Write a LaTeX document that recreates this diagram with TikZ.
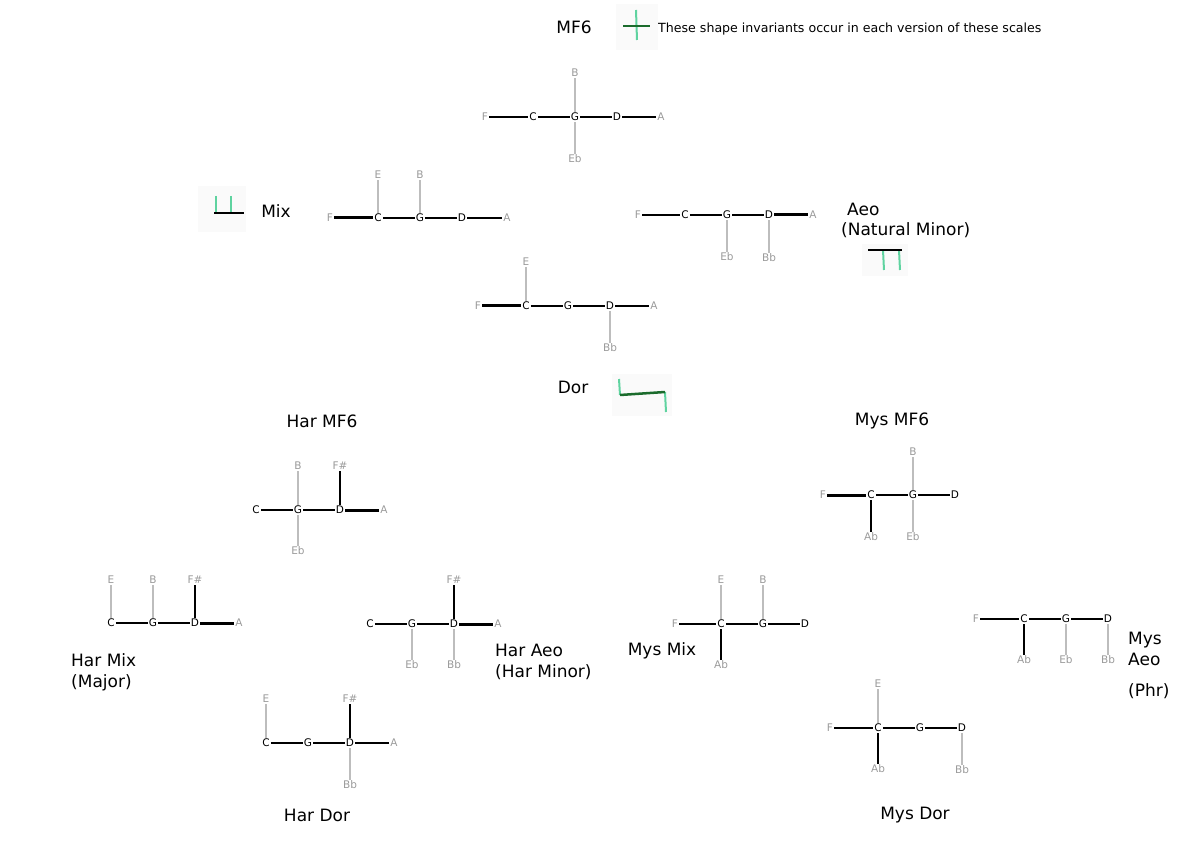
\documentclass[tikz,border=0pt]{standalone}
\usepackage{fontspec}
\setmainfont{DejaVu Sans}
\definecolor{inklight}{HTML}{5FD3A0}
\definecolor{inkdark}{HTML}{1B6B2C}
\definecolor{notegray}{HTML}{9A9A9A}
\definecolor{stemgray}{HTML}{BDBDBD}

\begin{document}
\begin{tikzpicture}[x=1pt,y=-1pt,line cap=butt]

  \tikzstyle{note}=[font=\fontsize{10.5}{12}\selectfont,text=notegray,inner sep=1pt]
  \tikzstyle{root}=[note,text=black]
  \tikzstyle{title}=[font=\fontsize{17}{21}\selectfont,inner sep=0pt]
  \tikzstyle{bar}=[draw=black,line width=2.3pt]
  \tikzstyle{heavy}=[draw=black,line width=3pt]
  \tikzstyle{stem}=[draw=stemgray,line width=1.6pt]
  \tikzstyle{boldstem}=[draw=black,line width=2.8pt]
  \tikzstyle{pad}=[fill=black!2,draw=none]

  \useasboundingbox (0,0) rectangle (1200,850);

  % titles
  \node[title]                    (tMF6)    at (574,27)   {MF6};
  \node[anchor=west,inner sep=0pt,font=\fontsize{12.6}{14}\selectfont]
                                  (legend)  at (658,29)   {These shape invariants occur in each version of these scales};
  \node[title]                    (tMix)    at (276,211)  {Mix};
  \node[title,anchor=west]        (tAeo)    at (847,209)  {Aeo};
  \node[title,anchor=west]        (tNat)    at (841,230)  {(Natural Minor)};
  \node[title]                    (tDor)    at (573,387)  {Dor};
  \node[title]                    (tHarMF6) at (322,421)  {Har MF6};
  \node[title]                    (tMysMF6) at (892,421)  {Mys MF6};
  \node[title,anchor=west,align=left] (tHarMix) at (71,672)   {Har Mix\\(Major)};
  \node[title,anchor=west,align=left] (tHarAeo) at (495,662)  {Har Aeo\\(Har Minor)};
  \node[title]                    (tHarDor) at (317,815)  {Har Dor};
  \node[title]                    (tMysMix) at (662,651)  {Mys Mix};
  \node[title,anchor=west,align=left] (tMysAeo) at (1128,649) {Mys\\Aeo};
  \node[title,anchor=west]        (tPhr)    at (1128,691) {(Phr)};
  \node[title]                    (tMysDor) at (915,815)  {Mys Dor};

  % invariant marks
  \fill[pad] (616,4) rectangle (658,50);
  \draw[inklight,line width=2pt] (636,10) -- (637,40);
  \draw[inkdark,line width=2.2pt] (623,26) -- (650,26);

  \fill[pad] (198,186) rectangle (246,232);
  \draw[inklight,line width=2pt] (216,196) -- (216,212);
  \draw[inklight,line width=2pt] (231,196) -- (231,212);
  \draw[black,line width=2.5pt] (214,213) -- (244,213);

  \fill[pad] (862,244) rectangle (908,276);
  \draw[inklight,line width=2pt] (883,250) -- (884,270);
  \draw[inklight,line width=2pt] (899,250) -- (900,270);
  \draw[black,line width=2.5pt] (868,250) -- (902,250);

  \fill[pad] (612,374) rectangle (672,416);
  \draw[inklight,line width=2pt] (619,379) -- (620,395);
  \draw[inklight,line width=2pt] (665,392) -- (666,412);
  \draw[inkdark,line width=2.5pt] (620,395) -- (665,392);

  % MF6
  \node[note] (mf-F)  at (485,117) {F};
  \node[root] (mf-C)  at (533,117) {C};
  \node[root] (mf-G)  at (575,117) {G};
  \node[root] (mf-D)  at (617,117) {D};
  \node[note] (mf-A)  at (661,117) {A};
  \node[note] (mf-B)  at (575,73)  {B};
  \node[note] (mf-Eb) at (575,159) {Eb};

  % Mix
  \node[note] (mix-F) at (330,218) {F};
  \node[root] (mix-C) at (378,218) {C};
  \node[root] (mix-G) at (420,218) {G};
  \node[root] (mix-D) at (462,218) {D};
  \node[note] (mix-A) at (507,218) {A};
  \node[note] (mix-E) at (378,175) {E};
  \node[note] (mix-B) at (420,175) {B};

  % Aeo
  \node[note] (aeo-F)  at (638,215) {F};
  \node[root] (aeo-C)  at (685,215) {C};
  \node[root] (aeo-G)  at (727,215) {G};
  \node[root] (aeo-D)  at (769,215) {D};
  \node[note] (aeo-A)  at (813,215) {A};
  \node[note] (aeo-Eb) at (727,257) {Eb};
  \node[note] (aeo-Bb) at (769,258) {Bb};

  % Dor
  \node[note] (dor-F)  at (478,306) {F};
  \node[root] (dor-C)  at (526,306) {C};
  \node[root] (dor-G)  at (568,306) {G};
  \node[root] (dor-D)  at (610,306) {D};
  \node[note] (dor-A)  at (654,306) {A};
  \node[note] (dor-E)  at (526,262) {E};
  \node[note] (dor-Bb) at (610,348) {Bb};

  % Har MF6
  \node[root] (hmf-C)  at (256,510) {C};
  \node[root] (hmf-G)  at (298,510) {G};
  \node[root] (hmf-D)  at (340,510) {D};
  \node[note] (hmf-A)  at (384,510) {A};
  \node[note] (hmf-B)  at (298,466) {B};
  \node[note] (hmf-Fs) at (340,466) {F\#};
  \node[note] (hmf-Eb) at (298,551) {Eb};

  % Har Mix
  \node[root] (hmix-C)  at (111,623) {C};
  \node[root] (hmix-G)  at (153,623) {G};
  \node[root] (hmix-D)  at (195,623) {D};
  \node[note] (hmix-A)  at (239,623) {A};
  \node[note] (hmix-E)  at (111,580) {E};
  \node[note] (hmix-B)  at (153,580) {B};
  \node[note] (hmix-Fs) at (195,580) {F\#};

  % Har Aeo
  \node[root] (haeo-C)  at (370,624) {C};
  \node[root] (haeo-G)  at (412,624) {G};
  \node[root] (haeo-D)  at (454,624) {D};
  \node[note] (haeo-A)  at (498,624) {A};
  \node[note] (haeo-Fs) at (454,580) {F\#};
  \node[note] (haeo-Eb) at (412,665) {Eb};
  \node[note] (haeo-Bb) at (454,665) {Bb};

  % Har Dor
  \node[root] (hdor-C)  at (266,743) {C};
  \node[root] (hdor-G)  at (308,743) {G};
  \node[root] (hdor-D)  at (350,743) {D};
  \node[note] (hdor-A)  at (394,743) {A};
  \node[note] (hdor-E)  at (266,699) {E};
  \node[note] (hdor-Fs) at (350,699) {F\#};
  \node[note] (hdor-Bb) at (350,785) {Bb};

  % Mys MF6
  \node[note] (ymf-F)  at (823,495) {F};
  \node[root] (ymf-C)  at (871,495) {C};
  \node[root] (ymf-G)  at (913,495) {G};
  \node[root] (ymf-D)  at (955,495) {D};
  \node[note] (ymf-B)  at (913,452) {B};
  \node[note] (ymf-Ab) at (871,537) {Ab};
  \node[note] (ymf-Eb) at (913,537) {Eb};

  % Mys Mix
  \node[note] (ymix-F)  at (675,624) {F};
  \node[root] (ymix-C)  at (721,624) {C};
  \node[root] (ymix-G)  at (763,624) {G};
  \node[root] (ymix-D)  at (805,624) {D};
  \node[note] (ymix-E)  at (721,580) {E};
  \node[note] (ymix-B)  at (763,580) {B};
  \node[note] (ymix-Ab) at (721,665) {Ab};

  % Mys Aeo
  \node[note] (yaeo-F)  at (976,619)  {F};
  \node[root] (yaeo-C)  at (1024,619) {C};
  \node[root] (yaeo-G)  at (1066,619) {G};
  \node[root] (yaeo-D)  at (1108,619) {D};
  \node[note] (yaeo-Ab) at (1024,660) {Ab};
  \node[note] (yaeo-Eb) at (1066,660) {Eb};
  \node[note] (yaeo-Bb) at (1108,660) {Bb};

  % Mys Dor
  \node[note] (ydor-F)  at (830,728) {F};
  \node[root] (ydor-C)  at (878,728) {C};
  \node[root] (ydor-G)  at (920,728) {G};
  \node[root] (ydor-D)  at (962,728) {D};
  \node[note] (ydor-E)  at (878,684) {E};
  \node[note] (ydor-Ab) at (878,769) {Ab};
  \node[note] (ydor-Bb) at (962,770) {Bb};

  \path
  (mf-F) edge[bar] (mf-C)  (mf-C) edge[bar] (mf-G)  (mf-G) edge[bar] (mf-D)  (mf-D) edge[bar] (mf-A)
  (mf-G) edge[stem] (mf-B)  (mf-G) edge[stem] (mf-Eb)

  (mix-F) edge[heavy] (mix-C)  (mix-C) edge[bar] (mix-G)  (mix-G) edge[bar] (mix-D)  (mix-D) edge[bar] (mix-A)
  (mix-C) edge[stem] (mix-E)  (mix-G) edge[stem] (mix-B)

  (aeo-F) edge[bar] (aeo-C)  (aeo-C) edge[bar] (aeo-G)  (aeo-G) edge[bar] (aeo-D)  (aeo-D) edge[heavy] (aeo-A)
  (aeo-G) edge[stem] (aeo-Eb)  (aeo-D) edge[stem] (aeo-Bb)

  (dor-F) edge[heavy] (dor-C)  (dor-C) edge[bar] (dor-G)  (dor-G) edge[bar] (dor-D)  (dor-D) edge[bar] (dor-A)
  (dor-C) edge[stem] (dor-E)  (dor-D) edge[stem] (dor-Bb)

  (hmf-C) edge[bar] (hmf-G)  (hmf-G) edge[bar] (hmf-D)  (hmf-D) edge[heavy] (hmf-A)
  (hmf-G) edge[stem] (hmf-B)  (hmf-D) edge[boldstem] (hmf-Fs)  (hmf-G) edge[stem] (hmf-Eb)

  (hmix-C) edge[bar] (hmix-G)  (hmix-G) edge[bar] (hmix-D)  (hmix-D) edge[heavy] (hmix-A)
  (hmix-C) edge[stem] (hmix-E)  (hmix-G) edge[stem] (hmix-B)  (hmix-D) edge[boldstem] (hmix-Fs)

  (haeo-C) edge[bar] (haeo-G)  (haeo-G) edge[bar] (haeo-D)  (haeo-D) edge[heavy] (haeo-A)
  (haeo-D) edge[boldstem] (haeo-Fs)  (haeo-G) edge[stem] (haeo-Eb)  (haeo-D) edge[stem] (haeo-Bb)

  (hdor-C) edge[bar] (hdor-G)  (hdor-G) edge[bar] (hdor-D)  (hdor-D) edge[bar] (hdor-A)
  (hdor-C) edge[stem] (hdor-E)  (hdor-D) edge[boldstem] (hdor-Fs)  (hdor-D) edge[stem] (hdor-Bb)

  (ymf-F) edge[heavy] (ymf-C)  (ymf-C) edge[bar] (ymf-G)  (ymf-G) edge[bar] (ymf-D)
  (ymf-G) edge[stem] (ymf-B)  (ymf-C) edge[boldstem] (ymf-Ab)  (ymf-G) edge[stem] (ymf-Eb)

  (ymix-F) edge[bar] (ymix-C)  (ymix-C) edge[bar] (ymix-G)  (ymix-G) edge[bar] (ymix-D)
  (ymix-C) edge[stem] (ymix-E)  (ymix-G) edge[stem] (ymix-B)  (ymix-C) edge[boldstem] (ymix-Ab)

  (yaeo-F) edge[bar] (yaeo-C)  (yaeo-C) edge[bar] (yaeo-G)  (yaeo-G) edge[bar] (yaeo-D)
  (yaeo-C) edge[boldstem] (yaeo-Ab)  (yaeo-G) edge[stem] (yaeo-Eb)  (yaeo-D) edge[stem] (yaeo-Bb)

  (ydor-F) edge[bar] (ydor-C)  (ydor-C) edge[bar] (ydor-G)  (ydor-G) edge[bar] (ydor-D)
  (ydor-C) edge[stem] (ydor-E)  (ydor-C) edge[boldstem] (ydor-Ab)  (ydor-D) edge[stem] (ydor-Bb)
  ;
\end{tikzpicture}
\end{document}
